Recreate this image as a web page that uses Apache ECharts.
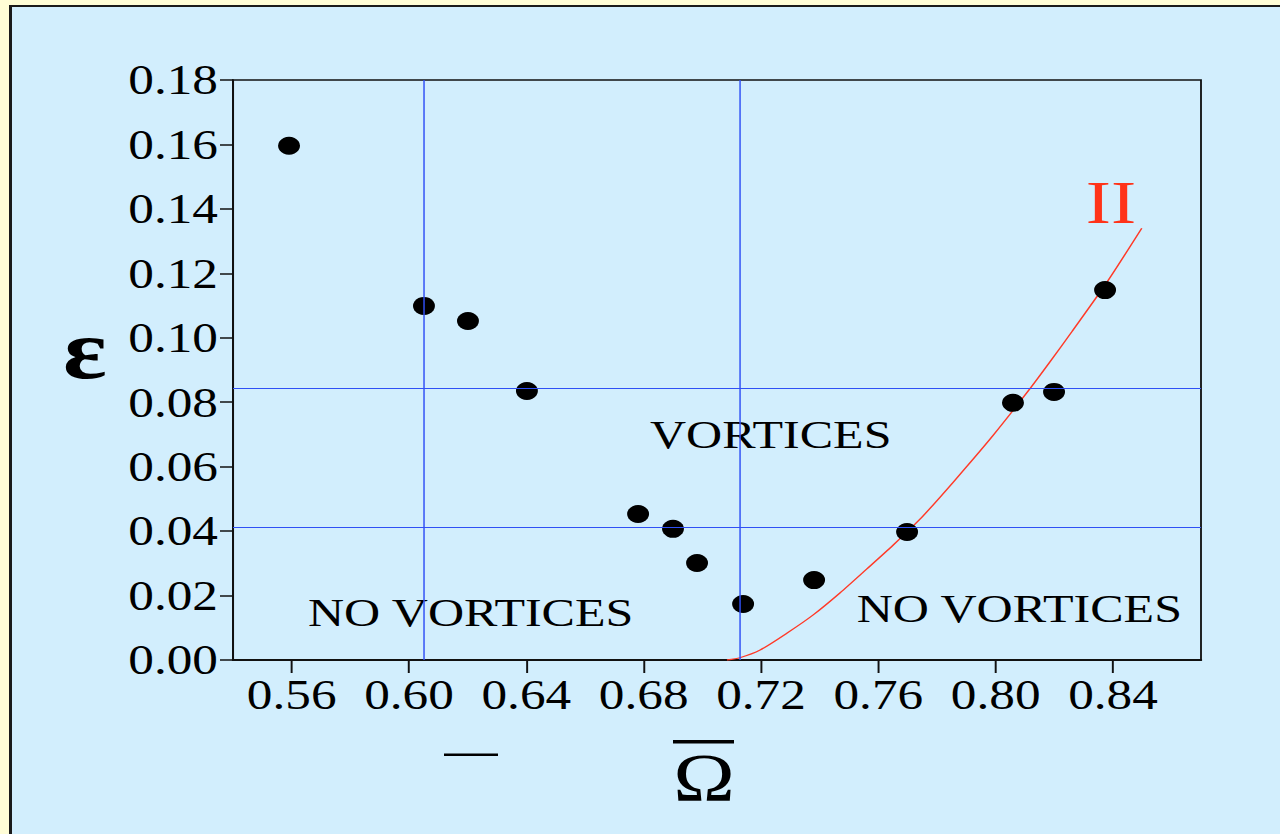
<!DOCTYPE html>
<html>
<head>
<meta charset="utf-8">
<script src="https://cdn.jsdelivr.net/npm/echarts@6/dist/echarts.min.js"></script>
<style>
html,body{margin:0;padding:0;width:1280px;height:834px;overflow:hidden;background:#FFFDD6;}
#frame{position:absolute;left:9px;top:5px;width:1300px;height:860px;border-left:3px solid #1a1a1a;border-top:2px solid #1a1a1a;background:#D2EEFD;}
#chart{position:absolute;left:0;top:0;width:1049px;height:834px;transform-origin:0 0;}
</style>
</head>
<body>
<div id="frame"></div>
<div id="chart"></div>
<script>
// ---- data ----
const xTickValues = [0.56, 0.60, 0.64, 0.68, 0.72, 0.76, 0.80, 0.84];
const omegaBar = [0.5591, 0.6051, 0.6201, 0.6402, 0.6781, 0.6900, 0.6982, 0.7139, 0.7381, 0.7698, 0.8059, 0.8199, 0.8373];
const epsilon  = [0.1596, 0.1099, 0.1052, 0.0835, 0.0453, 0.0407, 0.0301, 0.0174, 0.0248, 0.0397, 0.0798, 0.0832, 0.1148];
const curveX = [0.7084, 0.7128, 0.7197, 0.7288, 0.7378, 0.7469, 0.7560, 0.7651, 0.7742, 0.7810, 0.7901, 0.7992, 0.8117, 0.8185, 0.8259, 0.8379, 0.8498];
const curveY = [0.0000, 0.0007, 0.0031, 0.0083, 0.0140, 0.0208, 0.0282, 0.0357, 0.0437, 0.0505, 0.0600, 0.0698, 0.0842, 0.0925, 0.1018, 0.1172, 0.1340];
const vLines = [0.6051, 0.7129];
const hLines = [0.0844, 0.0413];
const regionLabels = ['VORTICES', 'NO VORTICES', 'NO VORTICES'];
const curveLabel = 'II';

// ---- layout (reference image is stretched horizontally) ----
const W = 1049, S = 1280 / W;
const el = document.getElementById('chart');
el.style.transform = 'scaleX(' + S + ')';
const sx = px => px / S;
const FONT = "'Liberation Serif', 'Times New Roman', serif";

const chart = echarts.init(el, null, {renderer: 'svg'});
const scatterData = omegaBar.map((x, i) => [x, epsilon[i]]);
const curveData = curveX.map((x, i) => [x, curveY[i]]);

chart.setOption({
  backgroundColor: 'transparent',
  animation: false,
  grid: {
    left: sx(233), top: 80, width: sx(1201 - 233), height: 580,
    show: true, borderColor: '#111', borderWidth: 1.5, backgroundColor: 'transparent'
  },
  xAxis: {
    type: 'value', min: 0.54, max: 0.87,
    axisLine: {show: true, onZero: false, lineStyle: {color: '#111', width: 2}},
    axisTick: {show: true, length: 13, customValues: xTickValues, lineStyle: {color: '#111', width: 1.6}},
    axisLabel: {customValues: xTickValues, formatter: v => v.toFixed(2), fontFamily: FONT, fontSize: 42, color: '#000', margin: 14},
    splitLine: {show: false}
  },
  yAxis: {
    type: 'value', min: 0, max: 0.18, interval: 0.02,
    axisLine: {show: true, onZero: false, lineStyle: {color: '#111', width: 1.6}},
    axisTick: {show: true, length: sx(13), lineStyle: {color: '#111', width: 1.5}},
    axisLabel: {formatter: v => v.toFixed(2), fontFamily: FONT, fontSize: 42, color: '#000', margin: sx(15)},
    splitLine: {show: false}
  },
  graphic: [
    {type: 'text', z: 1, style: {text: regionLabels[0], x: sx(650), y: 434, align: 'left', verticalAlign: 'middle', font: '41px ' + FONT, fill: '#000'}},
    {type: 'text', z: 1, style: {text: regionLabels[1], x: sx(308), y: 612, align: 'left', verticalAlign: 'middle', font: '41px ' + FONT, fill: '#000'}},
    {type: 'text', z: 1, style: {text: regionLabels[2], x: sx(1182), y: 608, align: 'right', verticalAlign: 'middle', font: '41px ' + FONT, fill: '#000'}},
    {type: 'text', z: 1, style: {text: curveLabel, x: sx(1111), y: 202, align: 'center', verticalAlign: 'middle', font: '62px ' + FONT, fill: '#FF3319'}},
    {type: 'text', z: 1, style: {text: 'ε', x: sx(85), y: 350, align: 'center', verticalAlign: 'middle', font: 'bold 84px ' + FONT, fill: '#000'}},
    {type: 'text', z: 1, style: {text: 'Ω', x: sx(704), y: 777, align: 'center', verticalAlign: 'middle', font: '68px ' + FONT, fill: '#000'}},
    {type: 'rect', z: 1, shape: {x: sx(673), y: 740, width: sx(734 - 673), height: 3.5}, style: {fill: '#000'}},
    {type: 'rect', z: 1, shape: {x: sx(444), y: 753.5, width: sx(498 - 444), height: 2.5}, style: {fill: '#000'}}
  ],
  series: [
    {
      type: 'line', data: curveData, smooth: 0.25, showSymbol: false, z: 2,
      lineStyle: {color: '#FF3A28', width: 1.3}
    },
    {
      type: 'scatter', data: scatterData, symbol: 'circle', symbolSize: 18, z: 3,
      itemStyle: {color: '#000', opacity: 1}
    },
    {
      type: 'line', data: [], z: 10,
      markLine: {
        silent: true, symbol: 'none', precision: 4, label: {show: false}, z: 10,
        lineStyle: {color: '#3050F5', width: 1.2, type: 'solid'},
        data: vLines.map(v => ({xAxis: v})).concat(hLines.map(v => ({yAxis: v})))
      }
    }
  ]
});
</script>
</body>
</html>
